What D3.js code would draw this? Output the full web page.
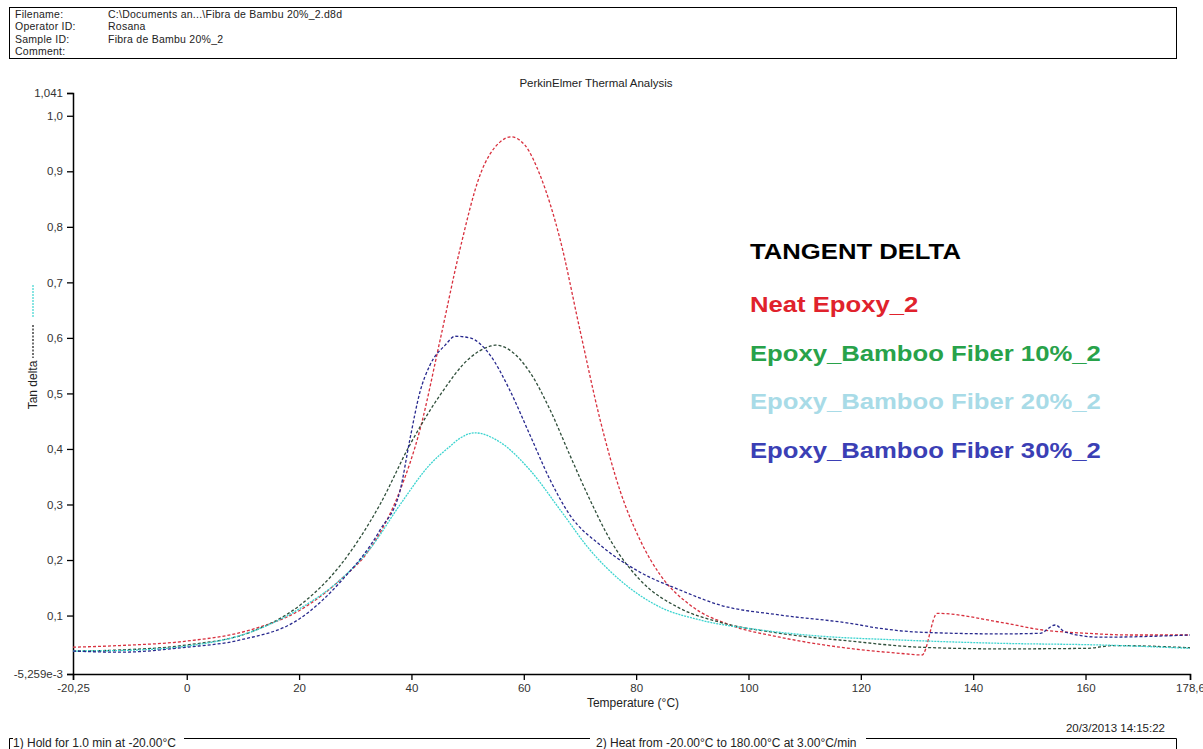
<!DOCTYPE html>
<html>
<head>
<meta charset="utf-8">
<script src="https://cdn.jsdelivr.net/npm/d3@7"></script>
<style>
  body { margin: 0; background: #fff; }
  svg { display: block; font-family: "Liberation Sans", Arial, sans-serif; }
</style>
</head>
<body>
<div id="chart"></div>
<script>
// header info
const headerRows = [
  ["Filename:", "C:\\Documents an...\\Fibra de Bambu 20%_2.d8d"],
  ["Operator ID:", "Rosana"],
  ["Sample ID:", "Fibra de Bambu 20%_2"],
  ["Comment:", ""]
];

// axis ticks
const xTicks = [-20.25, 0, 20, 40, 60, 80, 100, 120, 140, 160, 178.6];
const xTickLabels = ["-20,25", "0", "20", "40", "60", "80", "100", "120", "140", "160", "178,6"];
const yTicks = [-0.005259, 0.1, 0.2, 0.3, 0.4, 0.5, 0.6, 0.7, 0.8, 0.9, 1.0, 1.041];
const yTickLabels = ["-5,259e-3", "0,1", "0,2", "0,3", "0,4", "0,5", "0,6", "0,7", "0,8", "0,9", "1,0", "1,041"];

// series (temperature °C, tan delta)
const neatEpoxy = [
  [-20.25, 0.043], [-11.9, 0.046], [0, 0.054], [11.3, 0.074], [20.2, 0.11], [27.3, 0.164],
  [32.6, 0.22], [38.0, 0.326], [41.5, 0.434], [45.1, 0.596], [48.6, 0.758], [52.2, 0.893],
  [55.8, 0.953], [57.7, 0.962], [60.2, 0.947], [62.9, 0.893], [66.5, 0.776], [70.0, 0.614],
  [73.6, 0.452], [77.1, 0.326], [80.7, 0.236], [84.3, 0.173], [89.6, 0.119], [96.7, 0.083],
  [105.6, 0.061], [116.3, 0.043], [126.9, 0.032], [130.9, 0.029], [133.6, 0.104],
  [144.8, 0.088], [152.4, 0.074], [160.3, 0.068], [168.0, 0.065], [178.6, 0.065]
];
const fiber10 = [
  [-20.25, 0.036], [-11.9, 0.038], [0, 0.047], [11.3, 0.07], [20.2, 0.119], [27.3, 0.19],
  [34.4, 0.30], [39.7, 0.407], [45.1, 0.497], [50.4, 0.564], [54.0, 0.585], [54.9, 0.587],
  [57.5, 0.578], [61.1, 0.538], [64.7, 0.47], [68.2, 0.389], [71.8, 0.308], [75.4, 0.236],
  [80.7, 0.164], [87.8, 0.113], [94.9, 0.088], [105.6, 0.068], [118.1, 0.054], [130.5, 0.043],
  [144.8, 0.04], [160.3, 0.041], [165.0, 0.046], [178.6, 0.042]
];
const fiber20 = [
  [-20.25, 0.036], [-11.9, 0.037], [0, 0.045], [11.3, 0.07], [20.2, 0.113], [27.3, 0.164],
  [32.6, 0.22], [38.0, 0.30], [43.3, 0.372], [46.9, 0.405], [48.6, 0.419], [51.3, 0.429],
  [55.8, 0.412], [61.1, 0.362], [66.5, 0.29], [71.8, 0.218], [77.1, 0.164], [84.3, 0.115],
  [91.4, 0.092], [102.1, 0.074], [112.7, 0.063], [126.9, 0.056], [144.8, 0.05], [162.6, 0.047],
  [178.6, 0.041]
];
const fiber30 = [
  [-20.25, 0.036], [-11.9, 0.034], [0, 0.043], [9.5, 0.056], [20.2, 0.095], [27.3, 0.16],
  [34.4, 0.254], [38.0, 0.326], [39.7, 0.416], [41.5, 0.502], [43.3, 0.551], [46.0, 0.587],
  [47.8, 0.603], [50.4, 0.6], [54.0, 0.569], [57.5, 0.506], [61.1, 0.425], [64.7, 0.344],
  [68.2, 0.281], [73.6, 0.227], [80.7, 0.178], [87.8, 0.146], [94.9, 0.119], [105.6, 0.101],
  [118.1, 0.086], [123.4, 0.077], [130.5, 0.07], [144.8, 0.067], [151.9, 0.068], [154.6, 0.083],
  [156.4, 0.07], [162.6, 0.061], [178.6, 0.065]
];

const seriesNames = ["Neat Epoxy_2", "Epoxy_Bamboo Fiber 10%_2", "Epoxy_Bamboo Fiber 20%_2", "Epoxy_Bamboo Fiber 30%_2"];
const seriesData = [neatEpoxy, fiber10, fiber20, fiber30];
const lineColors = ["#d8303e", "#2f4e3a", "#3cd4d0", "#28298e"];
const lineDash = ["3,2", "3,2", "2,1", "3,2"];
const legendColors = ["#e0222c", "#28a24a", "#a8dbe7", "#3b3fb5"];

const W = 1203, H = 749;
const svg = d3.select("#chart").append("svg")
  .attr("width", W)
  .attr("height", H);

// header box
svg.append("rect")
  .attr("x", 9.5).attr("y", 7.5)
  .attr("width", 1167).attr("height", 51)
  .attr("fill", "none").attr("stroke", "#000").attr("stroke-width", 1);

headerRows.forEach((r, i) => {
  const y = 18 + i * 12.3;
  svg.append("text").attr("x", 15).attr("y", y)
    .attr("font-size", 10.5).attr("letter-spacing", 0.25).attr("fill", "#222").text(r[0]);
  svg.append("text").attr("x", 108).attr("y", y)
    .attr("font-size", 10.5).attr("letter-spacing", 0.25).attr("fill", "#222").text(r[1]);
});

svg.append("text")
  .attr("x", 596).attr("y", 87)
  .attr("text-anchor", "middle")
  .attr("font-size", 11.5).attr("fill", "#222")
  .text("PerkinElmer Thermal Analysis");

// scales
const x = d3.scaleLinear().domain([-20.25, 178.6]).range([73, 1190]);
const y = d3.scaleLinear().domain([-0.005259, 1.041]).range([674, 93]);

// axes
const xAxis = d3.axisBottom(x)
  .tickValues(xTicks)
  .tickFormat((d, i) => xTickLabels[i])
  .tickSize(6)
  .tickPadding(4);

const yAxis = d3.axisLeft(y)
  .tickValues(yTicks)
  .tickFormat((d, i) => yTickLabels[i])
  .tickSize(6)
  .tickPadding(4);

const gx = svg.append("g")
  .attr("transform", `translate(0, ${y.range()[0]})`)
  .call(xAxis);
const gy = svg.append("g")
  .attr("transform", `translate(${x.range()[0]}, 0)`)
  .call(yAxis);

[gx, gy].forEach(g => {
  g.select(".domain").attr("stroke", "#000").attr("stroke-width", 1.5);
  g.selectAll(".tick line").attr("stroke", "#000").attr("stroke-width", 1.3);
  g.selectAll(".tick text")
    .attr("fill", "#333")
    .attr("font-size", 11.5)
    .attr("font-family", '"Liberation Sans", Arial, sans-serif');
});

svg.append("text")
  .attr("x", 633).attr("y", 707)
  .attr("text-anchor", "middle")
  .attr("font-size", 12).attr("fill", "#222")
  .text("Temperature (°C)");

// y label with little series markers
svg.append("text")
  .attr("transform", "translate(37, 385) rotate(-90)")
  .attr("text-anchor", "middle")
  .attr("font-size", 12).attr("fill", "#222")
  .text("Tan delta");
svg.append("line")
  .attr("x1", 33).attr("x2", 33).attr("y1", 285).attr("y2", 318)
  .attr("stroke", lineColors[2]).attr("stroke-width", 1.2).attr("stroke-dasharray", "2,1");
svg.append("line")
  .attr("x1", 33).attr("x2", 33).attr("y1", 325).attr("y2", 358)
  .attr("stroke", "#111").attr("stroke-width", 1.2).attr("stroke-dasharray", "2,1.5");

// curves
const line = d3.line()
  .x(d => x(d[0]))
  .y(d => y(d[1]))
  .curve(d3.curveMonotoneX);

svg.append("g")
  .selectAll("path")
  .data(seriesData)
  .join("path")
  .attr("d", line)
  .attr("fill", "none")
  .attr("stroke", (d, i) => lineColors[i])
  .attr("stroke-width", 1.3)
  .attr("stroke-dasharray", (d, i) => lineDash[i]);

// legend text block (stretched a bit wider like the original print)
const legend = svg.append("g")
  .attr("transform", "translate(750, 0) scale(1.167, 1)");

legend.append("text")
  .attr("x", 0).attr("y", 259)
  .attr("font-size", 22).attr("font-weight", "bold").attr("fill", "#000")
  .text("TANGENT DELTA");

legend.selectAll("text.series")
  .data(seriesNames)
  .join("text")
  .attr("class", "series")
  .attr("x", 0)
  .attr("y", (d, i) => 312 + i * 48.7)
  .attr("font-size", 22)
  .attr("font-weight", "bold")
  .attr("fill", (d, i) => legendColors[i])
  .text(d => d);

// footer
svg.append("text")
  .attr("x", 1165).attr("y", 732)
  .attr("text-anchor", "end")
  .attr("font-size", 11.5).attr("fill", "#222")
  .text("20/3/2013 14:15:22");

const footer = svg.append("g").attr("stroke", "#000").attr("stroke-width", 1).attr("fill", "none");
footer.append("path").attr("d", "M9.5,749 V738.5 H13");
footer.append("path").attr("d", "M184,738.5 H590");
footer.append("path").attr("d", "M866,738.5 H1176.5 V749");

svg.append("text")
  .attr("x", 13).attr("y", 747)
  .attr("font-size", 12).attr("fill", "#222")
  .text("1)  Hold for 1.0 min at -20.00°C");
svg.append("text")
  .attr("x", 596).attr("y", 747)
  .attr("font-size", 12).attr("fill", "#222")
  .text("2)    Heat from -20.00°C to 180.00°C at 3.00°C/min");
</script>
</body>
</html>
